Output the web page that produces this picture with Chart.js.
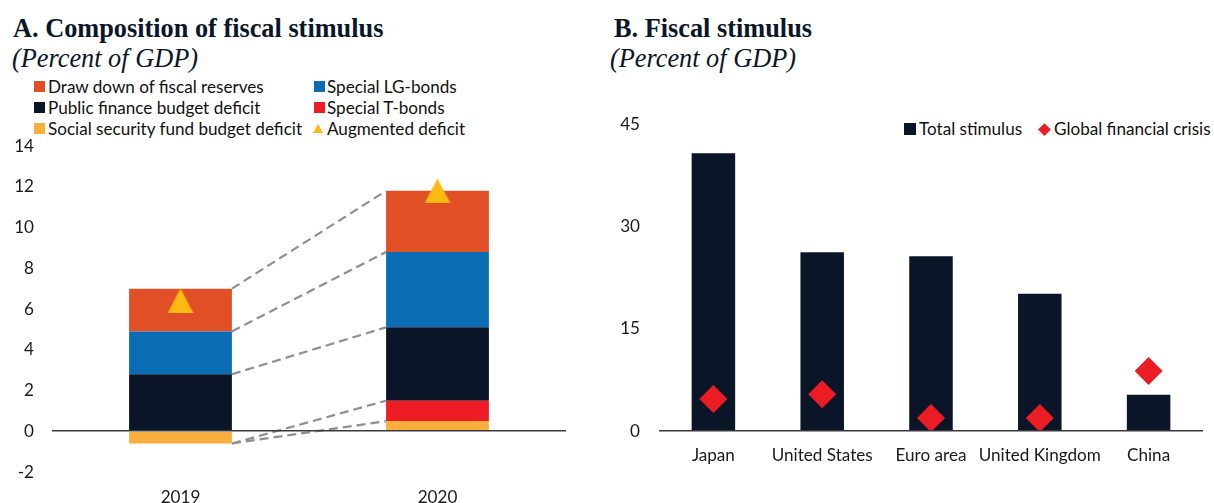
<!DOCTYPE html>
<html>
<head>
<meta charset="utf-8">
<script src="https://cdn.jsdelivr.net/npm/chart.js@4.4.0/dist/chart.umd.min.js"></script>
<style>
  html, body { margin:0; padding:0; background:#fff; width:1214px; height:503px; overflow:hidden; }
  body { position:relative; }
  .t { position:absolute; font-family:"Liberation Serif","Times New Roman",serif; color:#0b1628; white-space:nowrap; font-size:26.3px; line-height:26px; }
  .tb { font-weight:bold; }
  .ti { font-style:italic; }
  .lg { position:absolute; white-space:nowrap; color:#111; line-height:20px; height:20px; }
  .mk { position:absolute; }
  .cv { position:absolute; }
</style>
</head>
<body>
<div class="t tb" style="left:13px; top:15.5px;">A. Composition of fiscal stimulus</div>
<div class="t ti" style="left:12px; top:45.5px;">(Percent of GDP)</div>
<div class="t tb" style="left:614px; top:15.5px;">B. Fiscal stimulus</div>
<div class="t ti" style="left:610px; top:45.5px;">(Percent of GDP)</div>

<div id="legA"></div>
<div id="legB"></div>

<div class="cv" style="left:0px; top:130px;"><canvas id="chartA" width="600" height="373"></canvas></div>
<div class="cv" style="left:600px; top:100px;"><canvas id="chartB" width="617" height="403"></canvas></div>

<script>
// ---------------- Data: Panel A ----------------
const years = ['2019', '2020'];
const socialSecurity = [-0.6, 0.5];
const specialTBonds = [0.0, 1.0];
const publicFinance = [2.8, 3.6];
const specialLGBonds = [2.1, 3.7];
const fiscalReserves = [2.1, 3.0];
const augmentedDeficit = [6.4, 11.8];
const yTicksA = [-2, 0, 2, 4, 6, 8, 10, 12, 14];

// ---------------- Data: Panel B ----------------
const countries = ['Japan', 'United States', 'Euro area', 'United Kingdom', 'China'];
const totalStimulus = [40.7, 26.2, 25.6, 20.1, 5.3];
const globalFinancialCrisis = [4.7, 5.4, 1.9, 1.9, 8.8];
const yTicksB = [0, 15, 30, 45];

// ---------------- Styling ----------------
const SANS = 'Lato, "Open Sans", "Noto Sans", sans-serif';
function fitSize(text, target) {
  const c = document.createElement('canvas').getContext('2d');
  c.font = '100px ' + SANS;
  return 100 * target / c.measureText(text).width;
}
const FS = Math.round(fitSize('Draw down of fiscal reserves', 216) * 10) / 10;
const TXT = '#1a1a1a';

const C_RES = '#E04F26', C_LG = '#0B6CB6', C_PF = '#0A1628', C_TB = '#ED1C24', C_SSF = '#FAAE3E', C_AUG = '#FDBA12';
const C_DIAM = '#EC1C24';

Chart.defaults.font.family = SANS;
Chart.defaults.font.size = FS;
Chart.defaults.color = TXT;

// triangle marker image (Excel style: centered bounding box)
function triangleCanvas(w, h, color) {
  const c = document.createElement('canvas');
  c.width = w; c.height = h;
  const x = c.getContext('2d');
  x.fillStyle = color;
  x.beginPath(); x.moveTo(w / 2, 0); x.lineTo(w, h); x.lineTo(0, h); x.closePath(); x.fill();
  return c;
}
const triImg = triangleCanvas(26, 25, C_AUG);

function noPad(s) { s.paddingTop = 0; s.paddingBottom = 0; s.paddingLeft = 0; s.paddingRight = 0; }

// ---------------- Panel A chart ----------------
const dsA = [
  { label: 'Social security fund budget deficit', data: socialSecurity, backgroundColor: C_SSF },
  { label: 'Special T-bonds', data: specialTBonds, backgroundColor: C_TB },
  { label: 'Public finance budget deficit', data: publicFinance, backgroundColor: C_PF },
  { label: 'Special LG-bonds', data: specialLGBonds, backgroundColor: C_LG },
  { label: 'Draw down of fiscal reserves', data: fiscalReserves, backgroundColor: C_RES },
];
const barDatasetsA = dsA.map(d => Object.assign({ type: 'bar', stack: 'deficit', barPercentage: 0.4, categoryPercentage: 1.0, borderWidth: 0 }, d));
const augDataset = {
  type: 'line', label: 'Augmented deficit', data: augmentedDeficit, stack: 'aug', order: -1,
  showLine: false, pointStyle: triImg, pointRadius: 13, pointHoverRadius: 13,
  backgroundColor: C_AUG, borderColor: C_AUG
};

const connectors = {
  id: 'connectors',
  afterDatasetsDraw(chart) {
    const ctx = chart.ctx;
    ctx.save();
    ctx.strokeStyle = '#8f8f8f';
    ctx.lineWidth = 2.2;
    ctx.setLineDash([9, 5]);
    chart.data.datasets.forEach((ds, i) => {
      if (ds.type !== 'bar') return;
      const m = chart.getDatasetMeta(i);
      for (let k = 0; k < m.data.length - 1; k++) {
        const a = m.data[k], b = m.data[k + 1];
        ctx.beginPath();
        ctx.moveTo(a.x + a.width / 2, a.y);
        ctx.lineTo(b.x - b.width / 2, b.y);
        ctx.stroke();
      }
    });
    ctx.restore();
  }
};

new Chart(document.getElementById('chartA'), {
  data: { labels: years, datasets: [...barDatasetsA, augDataset] },
  options: {
    responsive: false, animation: false, devicePixelRatio: 1,
    layout: { padding: { top: 16, right: 34, left: 0, bottom: 0 } },
    plugins: { legend: { display: false }, tooltip: { enabled: false } },
    scales: {
      x: {
        stacked: true,
        grid: { display: false, drawTicks: false },
        border: { display: false },
        ticks: { padding: 15, color: TXT, font: { size: FS } },
        afterFit: s => { s.height = 31; noPad(s); }
      },
      y: {
        stacked: true, min: -2, max: 14,
        afterBuildTicks: s => { s.ticks = yTicksA.map(v => ({ value: v })); },
        grid: { drawTicks: false, color: c => (c.tick && c.tick.value === 0) ? '#3a3a3a' : 'rgba(0,0,0,0)', lineWidth: 1.6, z: 1 },
        border: { display: false },
        ticks: { padding: 18, color: TXT, font: { size: FS } },
        afterFit: s => { s.width = 52; noPad(s); }
      }
    }
  },
  plugins: [connectors]
});

// ---------------- Panel B chart ----------------
new Chart(document.getElementById('chartB'), {
  data: {
    labels: countries,
    datasets: [
      { type: 'line', label: 'Global financial crisis', data: globalFinancialCrisis, order: -1,
        showLine: false, pointStyle: 'rectRot', pointRadius: 14, pointHoverRadius: 14, pointBorderWidth: 0,
        backgroundColor: C_DIAM, borderColor: C_DIAM },
      { type: 'bar', label: 'Total stimulus', data: totalStimulus, backgroundColor: C_PF,
        barPercentage: 0.4, categoryPercentage: 1.0, borderWidth: 0 }
    ]
  },
  options: {
    responsive: false, animation: false, devicePixelRatio: 1,
    layout: { padding: { top: 24, right: 0, left: 0, bottom: 0 } },
    plugins: { legend: { display: false }, tooltip: { enabled: false } },
    scales: {
      x: {
        grid: { display: false, drawTicks: false },
        border: { display: false },
        ticks: { padding: 14, color: TXT, font: { size: FS }, maxRotation: 0, autoSkip: false },
        afterFit: s => { s.height = 72; noPad(s); }
      },
      y: {
        min: 0, max: 45,
        afterBuildTicks: s => { s.ticks = yTicksB.map(v => ({ value: v })); },
        grid: { drawTicks: false, color: c => (c.tick && c.tick.value === 0) ? '#3a3a3a' : 'rgba(0,0,0,0)', lineWidth: 1.6, z: 1 },
        border: { display: false },
        ticks: { padding: 19, color: TXT, font: { size: FS } },
        afterFit: s => { s.width = 59; noPad(s); }
      }
    }
  }
});

// ---------------- HTML legends ----------------
function addText(parent, x, cy, text) {
  const d = document.createElement('div');
  d.className = 'lg';
  d.style.left = x + 'px';
  d.style.top = (cy - 10) + 'px';
  d.style.fontFamily = SANS;
  d.style.fontSize = FS + 'px';
  d.textContent = text;
  parent.appendChild(d);
}
function addSquare(parent, x, cy, size, color) {
  const d = document.createElement('div');
  d.className = 'mk';
  Object.assign(d.style, { left: x + 'px', top: (cy - size / 2) + 'px', width: size + 'px', height: size + 'px', background: color });
  parent.appendChild(d);
}
function addDiamond(parent, cx, cy, half, color) {
  const s = half * Math.SQRT2;
  const d = document.createElement('div');
  d.className = 'mk';
  Object.assign(d.style, { left: (cx - s / 2) + 'px', top: (cy - s / 2) + 'px', width: s + 'px', height: s + 'px', background: color, transform: 'rotate(45deg)' });
  parent.appendChild(d);
}
function addTriangle(parent, x, cy, w, h, color) {
  const d = document.createElement('div');
  d.className = 'mk';
  Object.assign(d.style, { left: x + 'px', top: (cy - h / 2) + 'px', width: '0', height: '0',
    borderLeft: (w / 2) + 'px solid transparent', borderRight: (w / 2) + 'px solid transparent', borderBottom: h + 'px solid ' + color });
  parent.appendChild(d);
}

const legA = document.getElementById('legA');
const byLabel = {};
dsA.forEach(d => byLabel[d.label] = d);
const legendLayoutA = [
  ['Draw down of fiscal reserves', 0, 0], ['Special LG-bonds', 1, 0],
  ['Public finance budget deficit', 0, 1], ['Special T-bonds', 1, 1],
  ['Social security fund budget deficit', 0, 2]
];
const rowY = [86.7, 107.5, 128.5];
const colMarkX = [34, 313.5], colTextX = [48, 327];
legendLayoutA.forEach(([lab, col, row]) => {
  addSquare(legA, colMarkX[col], rowY[row], 11, byLabel[lab].backgroundColor);
  addText(legA, colTextX[col], rowY[row], lab);
});
addTriangle(legA, 313, rowY[2], 10, 9, C_AUG);
addText(legA, colTextX[1], rowY[2], augDataset.label);

const legB = document.getElementById('legB');
addSquare(legB, 904, 129.2, 11.5, C_PF);
addText(legB, 919, 129.2, 'Total stimulus');
addDiamond(legB, 1044.3, 129.2, 6.3, C_DIAM);
addText(legB, 1054, 129.2, 'Global financial crisis');
</script>
</body>
</html>
